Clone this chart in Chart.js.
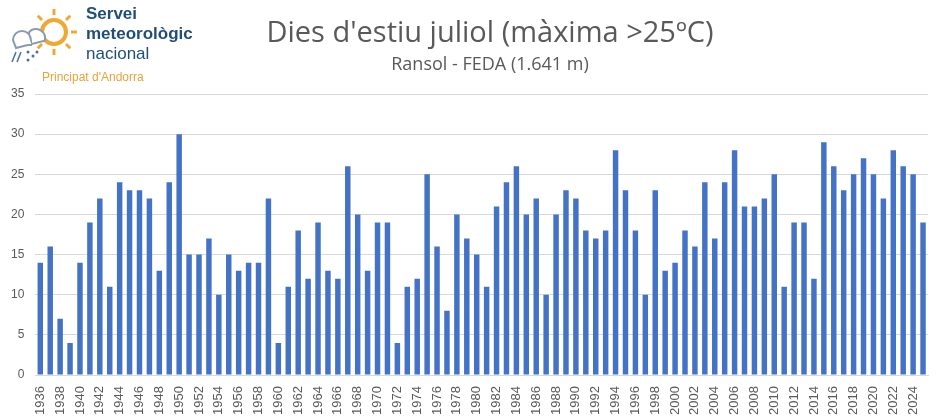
<!DOCTYPE html>
<html><head><meta charset="utf-8">
<script src="https://cdn.jsdelivr.net/npm/chart.js@4"></script>
<style>
body{margin:0;background:#fff;font-family:"Liberation Sans",Arial,sans-serif}
#wrap{position:relative;width:946px;height:420px}
.lg{position:absolute;left:86px;color:#1f4e79;font-weight:bold;font-size:17px;line-height:19px}
</style></head><body>
<div id="wrap">
<canvas id="c" width="946" height="420"></canvas>
<canvas id="logo" width="80" height="70" style="position:absolute;left:2px;top:2px"></canvas>
<div class="lg" style="top:4px">Servei</div>
<div class="lg" style="top:24px">meteorològic</div>
<div class="lg" style="top:44px;font-weight:normal;color:#1f4e79">nacional</div>
<div style="position:absolute;left:42px;top:70px;color:#e8a33a;font-size:12px">Principat d'Andorra</div>
</div>
<script>
const years=[];for(let y=1936;y<=2025;y++)years.push(String(y));
const values=[14,16,7,4,14,19,22,11,24,23,23,22,13,24,30,15,15,17,10,15,13,14,14,22,4,11,18,12,19,13,12,26,20,13,19,19,4,11,12,25,16,8,20,17,15,11,21,24,26,20,22,10,20,23,22,18,17,18,28,23,18,10,23,13,14,18,16,24,17,24,28,21,21,22,25,11,19,19,12,29,26,23,25,27,25,22,28,26,25,19];
const titleText="Dies d'estiu juliol (màxima >25ºC)";
const subtitleText="Ransol - FEDA (1.641 m)";

const l=document.getElementById('logo').getContext('2d');
l.strokeStyle='#f0a830';l.lineWidth=4;l.beginPath();l.arc(52,30,12,0,Math.PI*2);l.stroke();
l.lineWidth=3;for(let i=0;i<8;i++){const a=i*Math.PI/4;l.beginPath();l.moveTo(52+Math.cos(a)*17,30+Math.sin(a)*17);l.lineTo(52+Math.cos(a)*23,30+Math.sin(a)*23);l.stroke();}
l.fillStyle='#fff';l.strokeStyle='#8a9bb0';l.lineWidth=2;l.beginPath();l.arc(20,38,9,Math.PI,0);l.arc(34,36,9,Math.PI*1.2,0.3);l.lineTo(14,46);l.closePath();l.fill();l.stroke();
l.strokeStyle='#4a6fa5';l.lineWidth=1.5;[[14,50],[19,50]].forEach(p=>{l.beginPath();l.moveTo(p[0],p[1]);l.lineTo(p[0]-4,p[1]+10);l.stroke();});
l.fillStyle='#4a6fa5';[[26,50],[31,54],[26,58],[35,50]].forEach(p=>{l.beginPath();l.arc(p[0],p[1],1.5,0,7);l.fill();});

const titlePlugin={id:'tt',afterDraw(ch){const c=ch.ctx;c.save();c.fillStyle='#595959';c.textAlign='center';c.textBaseline='middle';
c.font='29px "Open Sans", Arial';c.fillText(titleText,490,34);c.font='18px "Open Sans", Arial';c.fillText(subtitleText,490,65);c.restore();}};

new Chart(document.getElementById('c'),{type:'bar',
data:{labels:years,datasets:[{data:values,backgroundColor:'#4472c4',barPercentage:0.55,categoryPercentage:1}]},
options:{responsive:false,animation:false,layout:{padding:{top:94,right:18,left:0,bottom:2}},
plugins:{legend:{display:false},tooltip:{enabled:false}},
scales:{
x:{grid:{display:false},border:{color:'#d9d9d9'},ticks:{autoSkip:false,maxRotation:90,minRotation:90,color:'#595959',font:{size:13,family:'"Liberation Sans", Arial'},callback:(v,i)=>i%2===0?years[i]:''}},
y:{min:0,max:35,ticks:{stepSize:5,color:'#595959',font:{size:12,family:'"Liberation Sans", Arial'},padding:11},grid:{color:'#d9d9d9',drawTicks:false},border:{display:false}}}},
plugins:[titlePlugin]});
</script></body></html>
